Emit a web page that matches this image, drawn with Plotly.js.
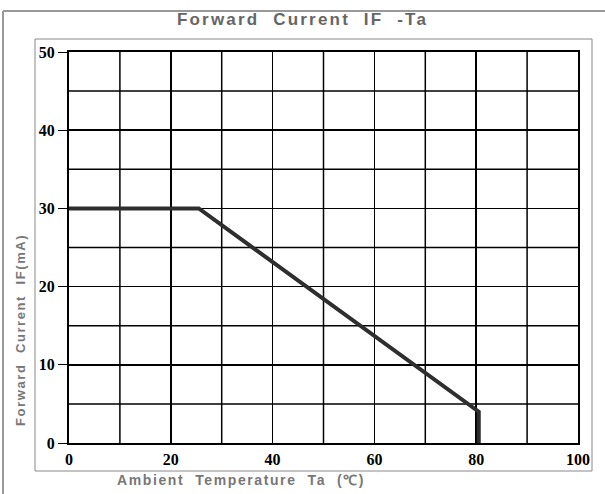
<!DOCTYPE html>
<html>
<head>
<meta charset="utf-8">
<script src="https://cdn.plot.ly/plotly-3.0.1.min.js"></script>
<style>
html,body{margin:0;padding:0;background:#fff;}
.gtitle{letter-spacing:2.2px;}
.annotation-text{letter-spacing:1.6px;}
</style>
</head>
<body>
<div id="chart" style="width:605px;height:494px;"></div>
<script>
// Data
const tempTa = [0, 25.5, 80.5, 80.5];
const currentIF = [30, 30, 4, 0];
const xTickVals = [0, 20, 40, 60, 80, 100];
const xTickText = ['0', '20', '40', '60', '80', '100'];
const yTickVals = [0, 10, 20, 30, 40, 50];
const yTickText = ['0', '10', '20', '30', '40', '50'];
const titleText = 'Forward&nbsp; Current&nbsp; IF&nbsp; -Ta';
const xTitleText = 'Ambient&nbsp; Temperature&nbsp; Ta&nbsp; (℃)';
const yTitleText = 'Forward&nbsp; Current&nbsp; IF(mA)';

const W = 605, H = 494;
const L = 69, R = 27, T = 52, B = 51;
const pw = W - L - R, ph = H - T - B;
const px = v => (v - L) / pw;
const py = v => (H - B - v) / ph;

const tickFont = {family: 'Liberation Serif, serif', size: 16, color: '#000', weight: 'bold'};

const data = [{
  x: tempTa, y: currentIF, type: 'scatter', mode: 'lines',
  line: {color: '#2e2e2e', width: 4}, hoverinfo: 'skip'
}];

const layout = {
  width: W, height: H,
  margin: {l: L, r: R, t: T, b: B, pad: 0},
  paper_bgcolor: '#fff', plot_bgcolor: '#fff',
  showlegend: false,
  title: {text: titleText, x: 0.5, xref: 'container', xanchor: 'center',
          y: 1 - 19 / H, yref: 'container', yanchor: 'middle',
          font: {family: 'Liberation Sans, Arial, sans-serif', size: 17, color: '#666', weight: 'bold'}},
  xaxis: {range: [0, 100], showgrid: true, gridcolor: '#000', gridwidth: 1.5,
          tickvals: xTickVals, ticktext: xTickText, ticks: '', ticklabelstandoff: 1,
          showline: true, linecolor: '#000', linewidth: 2, mirror: true, zeroline: false,
          tickfont: tickFont, fixedrange: true},
  yaxis: {range: [0, 50], showgrid: true, gridcolor: '#000', gridwidth: 1.5,
          tickvals: yTickVals, ticktext: yTickText, ticks: 'outside', ticklen: 9, tickcolor: '#000', tickwidth: 1,
          ticklabelstandoff: 0,
          showline: true, linecolor: '#000', linewidth: 2, mirror: true, zeroline: false,
          tickfont: tickFont, fixedrange: true},
  shapes: [
    ...[10, 30, 50, 70, 90].map(v => ({type: 'line', xref: 'x', yref: 'paper', x0: v, x1: v, y0: 0, y1: 1,
      line: {color: '#000', width: 1.5}, layer: 'below'})),
    ...[5, 15, 25, 35, 45].map(v => ({type: 'line', xref: 'paper', yref: 'y', x0: 0, x1: 1, y0: v, y1: v,
      line: {color: '#000', width: 1.5}, layer: 'below'})),
    {type: 'rect', xref: 'paper', yref: 'paper', x0: px(35), x1: px(592), y0: py(471), y1: py(39),
     line: {color: '#888', width: 1}, fillcolor: 'rgba(0,0,0,0)'},
    {type: 'line', xref: 'paper', yref: 'paper', x0: px(3), x1: px(3), y0: py(H), y1: py(11),
     line: {color: '#999', width: 2}},
    {type: 'line', xref: 'paper', yref: 'paper', x0: px(3), x1: px(W), y0: py(11), y1: py(11),
     line: {color: '#999', width: 2}}
  ],
  annotations: [
    {text: xTitleText, xref: 'paper', yref: 'paper', x: px(241), y: py(480), xanchor: 'center', yanchor: 'middle',
     showarrow: false, font: {family: 'Liberation Sans, Arial, sans-serif', size: 14, color: '#777', weight: 'bold'}},
    {text: yTitleText, xref: 'paper', yref: 'paper', x: px(20), y: py(330), xanchor: 'center', yanchor: 'middle',
     textangle: -90, showarrow: false, font: {family: 'Liberation Sans, Arial, sans-serif', size: 13, color: '#777', weight: 'bold'}}
  ]
};

Plotly.newPlot('chart', data, layout, {displayModeBar: false, staticPlot: true});
</script>
</body>
</html>
